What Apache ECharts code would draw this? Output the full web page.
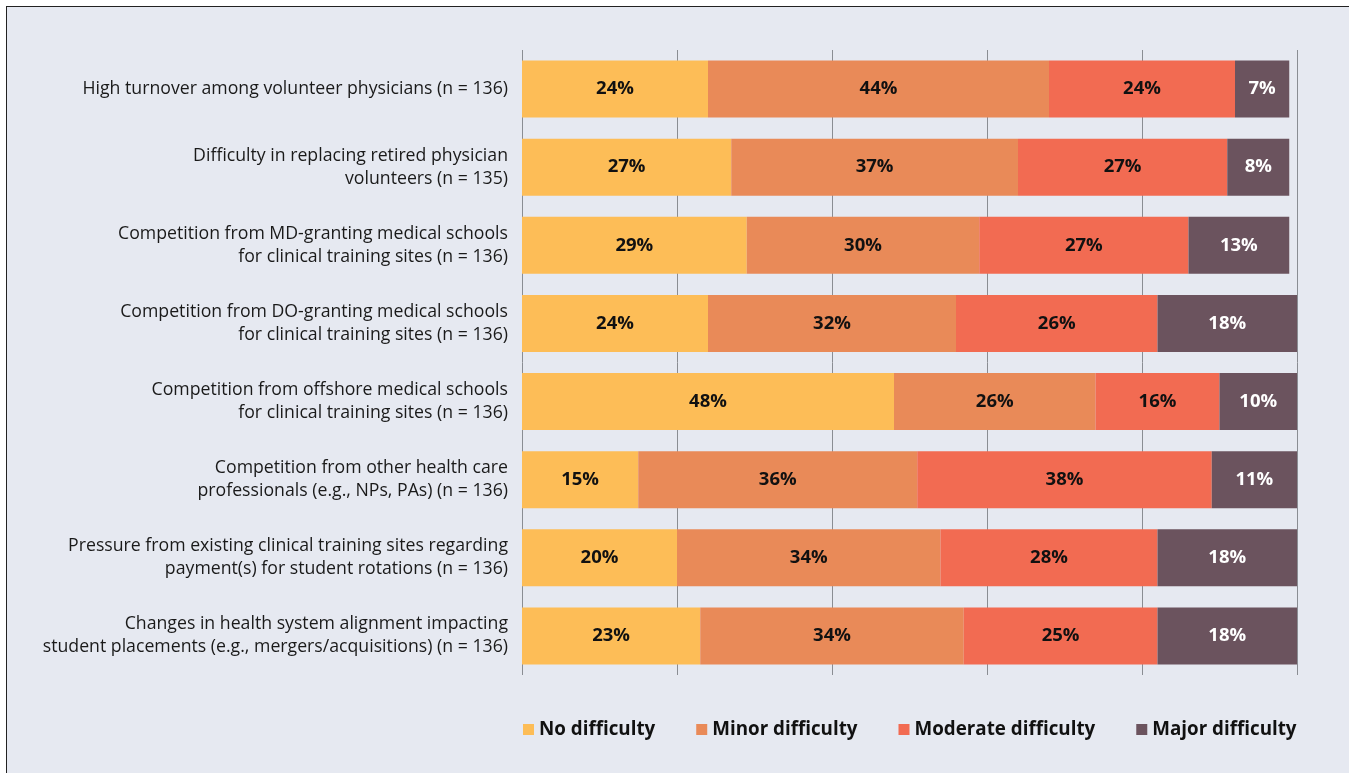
<!DOCTYPE html>
<html>
<head>
<meta charset="utf-8">
<script src="https://cdn.jsdelivr.net/npm/echarts@6/dist/echarts.min.js"></script>
<style>
  html, body { margin: 0; padding: 0; background: #fff; }
  #frame { position: absolute; left: 6px; top: 6px; width: 1360px; height: 780px; border: 1px solid #222; background: #e6e9f1; }
  #chart { position: absolute; left: 0; top: 0; width: 1349px; height: 773px; }
</style>
</head>
<body>
<div id="frame"></div>
<div id="chart"></div>
<script>
const categories = [
  'High turnover among volunteer physicians (n = 136)',
  'Difficulty in replacing retired physician\nvolunteers (n = 135)',
  'Competition from MD-granting medical schools\nfor clinical training sites (n = 136)',
  'Competition from DO-granting medical schools\nfor clinical training sites (n = 136)',
  'Competition from offshore medical schools\nfor clinical training sites (n = 136)',
  'Competition from other health care\nprofessionals (e.g., NPs, PAs) (n = 136)',
  'Pressure from existing clinical training sites regarding\npayment(s) for student rotations (n = 136)',
  'Changes in health system alignment impacting\nstudent placements (e.g., mergers/acquisitions) (n = 136)'
]
const noDifficulty = [24, 27, 29, 24, 48, 15, 20, 23]
const minorDifficulty = [44, 37, 30, 32, 26, 36, 34, 34]
const moderateDifficulty = [24, 27, 27, 26, 16, 38, 28, 25]
const majorDifficulty = [7, 8, 13, 18, 10, 11, 18, 18]

const seriesDefs = [
  { name: 'No difficulty', data: noDifficulty, color: '#fdbd57', text: '#111' },
  { name: 'Minor difficulty', data: minorDifficulty, color: '#e98a58', text: '#111' },
  { name: 'Moderate difficulty', data: moderateDifficulty, color: '#f26b52', text: '#111' },
  { name: 'Major difficulty', data: majorDifficulty, color: '#6b535e', text: '#fff' }
]

const myChart = echarts.init(document.getElementById('chart'))

const option = {
  backgroundColor: 'transparent',
  animation: false,
  textStyle: { fontFamily: 'Open Sans' },
  legend: {
    left: 518,
    top: 715,
    itemWidth: 11,
    itemHeight: 11,
    itemGap: 41,
    icon: 'rect',
    textStyle: { fontSize: 18.8, fontWeight: 'bold', color: '#111', fontFamily: 'Open Sans' }
  },
  grid: { left: 522, right: 52, top: 50, bottom: 98 },
  xAxis: {
    type: 'value',
    min: 0,
    max: 100,
    interval: 20,
    axisLabel: { show: false },
    axisLine: { show: false },
    axisTick: { show: false },
    splitLine: { show: true, lineStyle: { color: '#8a8d93', width: 1 } }
  },
  yAxis: {
    type: 'category',
    data: categories,
    inverse: true,
    axisLine: { show: false },
    axisTick: { show: false },
    axisLabel: {
      fontSize: 17.7,
      color: '#1a1a1a',
      margin: 14,
      lineHeight: 23,
      align: 'right',
      fontFamily: 'Open Sans'
    }
  },
  series: seriesDefs.map(s => ({
    name: s.name,
    type: 'bar',
    stack: 'total',
    barWidth: 57,
    data: s.data,
    itemStyle: { color: s.color },
    label: {
      show: true,
      position: 'inside',
      formatter: '{c}%',
      fontSize: 18.5,
      fontWeight: 'bold',
      color: s.text,
      fontFamily: 'Open Sans'
    }
  }))
}

option && myChart.setOption(option)
</script>
</body>
</html>
